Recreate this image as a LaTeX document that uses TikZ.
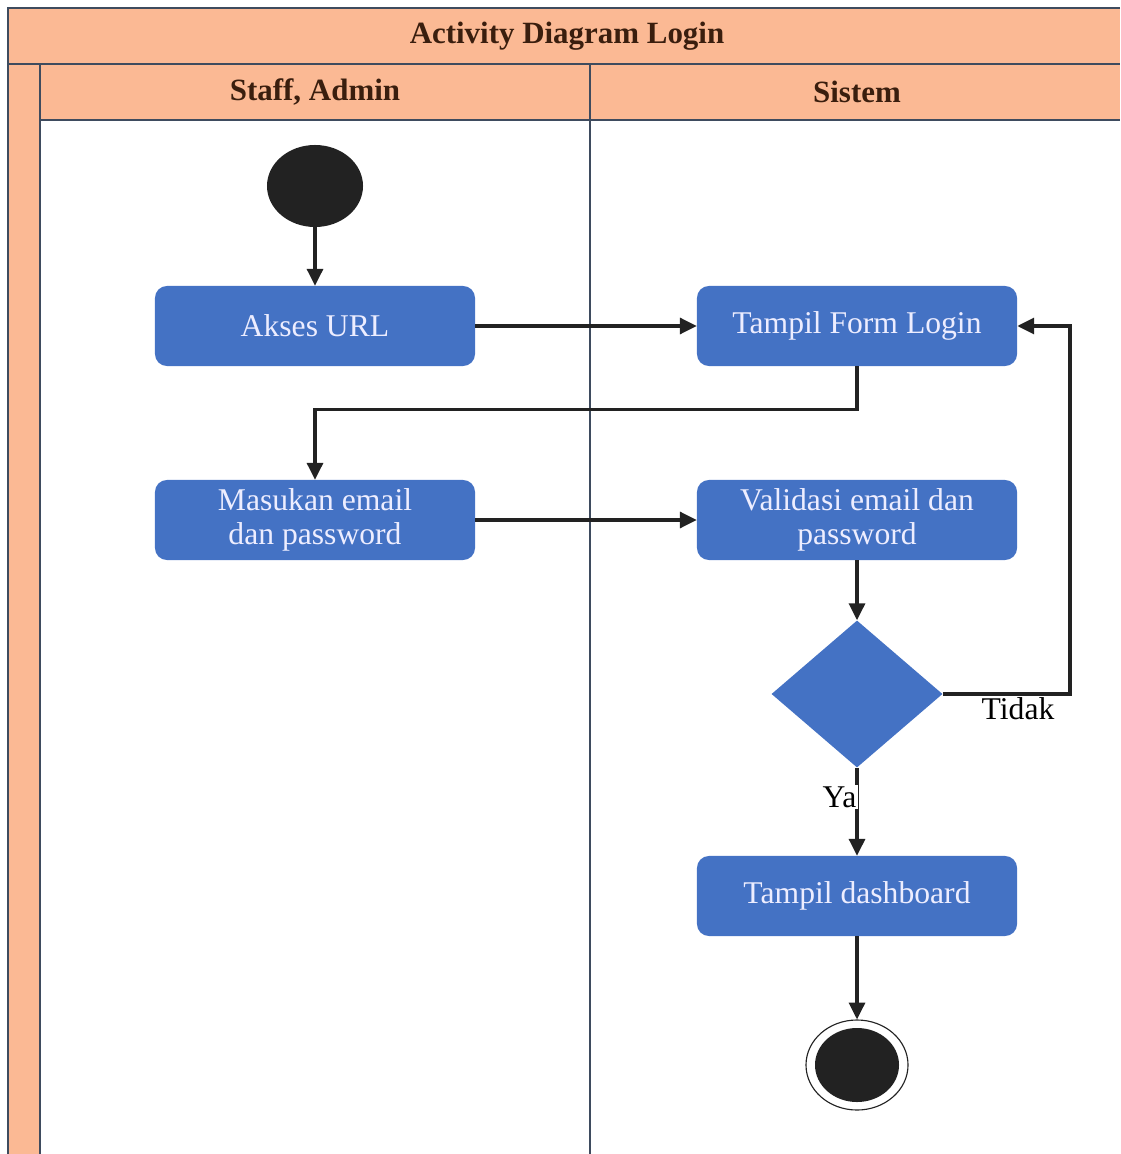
\documentclass[tikz,border=0pt]{standalone}
\usepackage{fontspec}
\setmainfont{Liberation Serif}
\usetikzlibrary{shapes.geometric,arrows.meta}
\definecolor{lanefill}{HTML}{FBB994}
\definecolor{actblue}{HTML}{4472C4}
\definecolor{laneline}{HTML}{3E4B5E}
\definecolor{headtext}{HTML}{3A1E0E}
\definecolor{dot}{HTML}{222222}
\begin{document}
\begin{tikzpicture}[x=0.025cm,y=-0.025cm,
    aksi/.style={fill=actblue,rounded corners=0.3cm,minimum width=8cm,minimum height=2cm,text=white!93!blue,align=center,font=\fontsize{22.5}{24}\selectfont},
    cabang/.style={shape=diamond,fill=actblue,minimum width=4.275cm,minimum height=3.675cm,inner sep=0pt},
    alur/.style={line width=2.2pt,draw=dot,-{Triangle[length=0.42cm,width=0.4cm]}},
    judul/.style={text=headtext,font=\bfseries\fontsize{22}{24}\selectfont},
    ket/.style={fill=white,inner sep=1pt,font=\fontsize{22.5}{24}\selectfont}]
    \useasboundingbox (0,0) rectangle (1120,1154);
    % lajur
    \fill[lanefill] (8,8) rectangle (1120,120);
    \fill[lanefill] (8,120) rectangle (40,1154);
    \draw[laneline, line width=1pt] (1120,8) -- (8,8) -- (8,1154);
    \draw[laneline, line width=1pt] (8,64) -- (1120,64);
    \draw[laneline, line width=1pt] (40,120) -- (1120,120);
    \draw[laneline, line width=1pt] (40,64) -- (40,1154);
    \draw[laneline, line width=1pt] (590,64) -- (590,1154);
    \node[judul] (judul) at (567,36) {Activity Diagram Login};
    \node[judul] (staff) at (315,92) {Staff, Admin};
    \node[judul] (sistem) at (857,92) {Sistem};
    % aktivitas
    \node[ellipse,fill=dot,minimum width=2.4cm,minimum height=2.05cm,inner sep=0pt] (mulai) at (315,186) {};
    \node[aksi] (akses) at (315,326) {Akses URL};
    \node[aksi] (form) at (857,326) {Tampil Form Login};
    \node[aksi] (masuk) at (315,520) {Masukan email\\dan password};
    \node[aksi] (validasi) at (857,520) {Validasi email dan\\password};
    \node[cabang] (cek) at (857,694) {};
    \node[aksi] (dashboard) at (857,896) {Tampil dashboard};
    \node[ellipse,draw=dot,line width=0.8pt,minimum width=2.55cm,minimum height=2.25cm,inner sep=0pt] (akhir) at (857,1065) {};
    \fill[dot] (akhir.center) ellipse [x radius=1.05cm, y radius=0.925cm];
    \coordinate (balik) at (1070,694);
    % alur
    \draw[alur] (mulai) -- (akses);
    \draw[alur] (akses) -- (form);
    \draw[alur] (form.south) -- ++(0,43) -| (masuk.north);
    \draw[alur] (masuk) -- (validasi);
    \draw[alur] (validasi) -- (cek);
    \draw[alur] (cek.east) -- (balik) |- (form.east);
    \draw[alur] (cek) -- (dashboard);
    \draw[alur] (dashboard) -- (akhir);
    \node[ket] (tidak) at (1018,709) {Tidak};
    \node[ket,anchor=east] (ya) at (858,797) {Ya};
\end{tikzpicture}
\end{document}
